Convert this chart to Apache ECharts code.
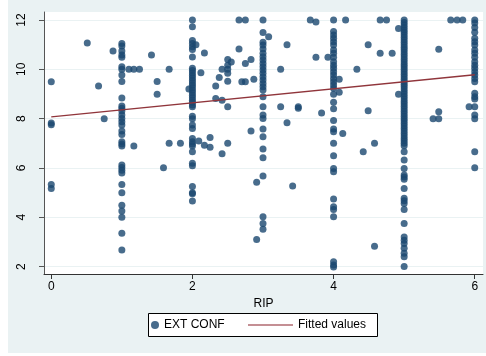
<!DOCTYPE html>
<html>
<head>
<meta charset="utf-8">
<script src="https://cdn.jsdelivr.net/npm/echarts@6/dist/echarts.min.js"></script>
<style>
  html, body { margin: 0; padding: 0; background: #fff; }
  #frame { position: absolute; left: 8px; top: 0; width: 478px; height: 353px; background: #eaf2f3; }
  #main { position: absolute; left: 0; top: 0; width: 486px; height: 356px; }
</style>
</head>
<body>
<div id="frame"></div>
<div id="main"></div>
<script>
// EXT CONF values, grouped by RIP column
var rip0 = [9.5, 7.82, 7.75, 5.33, 5.17];
var rip1 = [11.05, 10.95, 10.74, 10.58, 10.49, 10.1, 10.0, 9.77, 9.51, 8.84, 8.51, 8.42, 8.31, 8.15,
  8.01, 7.87, 7.74, 7.5, 7.36, 7.06, 6.97, 6.89, 6.12, 6.02, 5.91, 5.8, 5.33, 5.0, 4.49, 4.25, 4.0, 3.35, 2.67];
var rip2 = [12.0, 11.73, 11.17, 11.05, 10.92, 10.8, 10.5, 10.04, 9.95, 9.85, 9.75, 9.65, 9.55, 9.45,
  9.35, 9.25, 9.15, 9.05, 8.95, 8.85, 8.75, 8.65, 8.55, 8.48, 8.1, 8.0, 7.74, 7.6, 7.2, 7.06, 6.97,
  6.89, 6.66, 6.19, 6.09, 5.25, 5.0, 4.95, 4.66];
var rip3 = [12.0, 11.49, 11.1, 10.99, 10.82, 10.65, 10.51, 10.38, 10.24, 10.1, 9.97, 9.84, 9.7, 9.57,
  9.43, 9.29, 9.16, 8.89, 8.48, 8.15, 8.01, 7.58, 7.27, 6.77, 6.41, 5.67, 4.02, 3.75, 3.51];
var rip4 = [12.0, 11.53, 11.39, 11.26, 11.12, 10.99, 10.78, 10.65, 10.49, 10.31, 10.17, 10.04, 9.9,
  9.77, 9.63, 9.5, 9.36, 9.23, 8.99, 8.66, 8.4, 7.92, 7.58, 7.47, 7.0, 6.5, 5.98, 5.85, 4.74, 4.43,
  4.32, 4.02, 2.2, 2.07, 1.98];
var rip5 = [12.0, 11.9, 11.8, 11.7, 11.6, 11.5, 11.4, 11.3, 11.2, 11.1, 11.0, 10.9, 10.8, 10.7, 10.6,
  10.5, 10.4, 10.3, 10.2, 10.1, 10.0, 9.9, 9.8, 9.7, 9.6, 9.5, 9.4, 9.3, 9.2, 9.1, 9.0, 8.9, 8.8, 8.7,
  8.6, 8.5, 8.4, 8.3, 8.2, 8.1, 8.0, 7.9, 7.8, 7.7, 7.6, 7.5, 7.4, 7.3, 7.2, 7.1, 7.0, 6.9,
  6.66, 6.32, 5.98, 5.71, 5.63, 5.54, 5.17, 4.77, 4.67, 4.56, 4.32, 3.75, 3.2, 3.07, 2.94, 2.74,
  2.54, 2.4, 2.0];
var rip6 = [12.0, 11.88, 11.7, 11.5, 11.26, 11.12, 10.99, 10.78, 10.65, 10.49, 10.31, 10.17, 10.04,
  9.9, 9.77, 9.63, 9.5, 9.03, 8.89, 8.8, 8.48, 8.15, 8.0, 6.66, 6.01];
// points that sit between the integer RIP values: [RIP, EXT CONF]
var between = [
  [0.51, 11.07], [0.875, 10.74], [0.67, 9.32], [0.75, 8.0],
  [1.1, 10.0], [1.17, 10.0], [1.25, 10.0], [1.17, 6.89], [1.42, 10.58], [1.5, 9.51], [1.5, 8.99],
  [1.67, 10.0], [1.67, 7.0], [1.83, 7.0], [1.59, 6.01], [1.95, 9.2],
  [2.05, 11.0], [2.17, 10.66], [2.12, 9.86], [2.09, 7.09], [2.17, 6.92], [2.25, 7.24], [2.25, 6.84],
  [2.33, 9.32], [2.33, 8.82], [2.38, 9.67], [2.42, 10.0], [2.42, 8.75], [2.42, 6.58], [2.5, 10.4],
  [2.5, 10.17], [2.55, 10.3], [2.5, 10.0], [2.5, 9.84], [2.5, 9.52], [2.5, 8.48], [2.5, 7.0],
  [2.66, 12.0], [2.75, 12.0], [2.66, 10.82], [2.75, 10.24], [2.7, 9.5], [2.75, 9.5], [2.83, 10.4],
  [2.83, 7.5], [2.87, 9.6], [2.91, 5.42], [2.91, 3.1],
  [3.08, 11.32], [3.25, 10.0], [3.25, 8.48], [3.34, 11.0], [3.34, 7.83], [3.42, 5.27], [3.5, 8.48],
  [3.5, 8.42], [3.67, 12.0], [3.75, 11.92], [3.75, 10.49], [3.83, 8.23], [3.92, 10.49],
  [4.08, 9.6], [4.08, 9.07], [4.17, 12.0], [4.13, 7.4], [4.33, 10.0], [4.42, 6.66], [4.49, 11.0],
  [4.49, 8.32], [4.58, 7.0], [4.58, 2.83], [4.66, 12.0], [4.75, 12.0], [4.66, 10.65], [4.83, 10.65],
  [4.92, 11.66], [4.92, 8.99],
  [5.41, 8.0], [5.49, 8.0], [5.49, 8.28], [5.49, 10.81], [5.66, 12.0], [5.75, 12.0], [5.83, 12.0],
  [5.92, 8.48]
];
// fitted line end points
var fitX = [0, 6];
var fitY = [8.07, 9.78];
var xTicks = [0, 2, 4, 6];
var yTicks = [2, 4, 6, 8, 10, 12];

var font = "Liberation Sans";
var points = [];
[rip0, rip1, rip2, rip3, rip4, rip5, rip6].forEach(function(col, i) {
  col.forEach(function(v) { points.push([i, v]); });
});
points = points.concat(between);
var fitData = fitX.map(function(x, i) { return [x, fitY[i]]; });

var chart = echarts.init(document.getElementById("main"));
chart.setOption({
  animation: false,
  backgroundColor: "transparent",
  textStyle: { fontFamily: font },
  grid: {
    left: 44, right: 3, top: 12, bottom: 82,
    show: true, backgroundColor: "#fff", borderWidth: 0
  },
  xAxis: {
    type: "value",
    min: -0.103,
    max: 6.117,
    name: "RIP",
    nameLocation: "middle",
    nameGap: 19,
    nameTextStyle: { color: "#000", fontSize: 12, fontFamily: font },
    axisLine: { show: true, onZero: false, lineStyle: { color: "#333", width: 1 } },
    axisTick: { show: true, length: 5, customValues: xTicks, lineStyle: { color: "#333" } },
    axisLabel: { customValues: xTicks, color: "#000", fontSize: 12, margin: 7, fontFamily: font },
    splitLine: { show: false }
  },
  yAxis: {
    type: "value",
    min: 1.7,
    max: 12.325,
    axisLine: { show: true, onZero: false, lineStyle: { color: "#555", width: 1 } },
    axisTick: { show: true, length: 5, customValues: yTicks, lineStyle: { color: "#555" } },
    axisLabel: { customValues: yTicks, rotate: 90, color: "#000", fontSize: 12, margin: 16, fontFamily: font },
    splitLine: { show: true, lineStyle: { color: "#eaf2f3", width: 1 } }
  },
  graphic: [{
    type: "rect",
    shape: { x: 148.5, y: 313.5, width: 229, height: 23 },
    style: { fill: "#fff", stroke: "#000", lineWidth: 1 },
    z: 0
  }],
  legend: [{
    data: ["EXT CONF"],
    left: 151, top: 319, padding: 0,
    itemWidth: 8, itemHeight: 8,
    textStyle: { color: "#000", fontSize: 12, fontFamily: font }
  }, {
    data: [{ name: "Fitted values", icon: "rect" }],
    left: 248, top: 319, padding: 0,
    itemWidth: 45, itemHeight: 1.5,
    textStyle: { color: "#000", fontSize: 12, fontFamily: font }
  }],
  series: [{
    name: "EXT CONF",
    type: "scatter",
    symbolSize: 7,
    itemStyle: { color: "#1a476f" },
    emphasis: { disabled: true },
    data: points
  }, {
    name: "Fitted values",
    type: "line",
    showSymbol: false,
    symbol: "none",
    lineStyle: { color: "#90353b", width: 1.3 },
    itemStyle: { color: "#b06a70" },
    emphasis: { disabled: true },
    data: fitData
  }]
});
</script>
</body>
</html>
